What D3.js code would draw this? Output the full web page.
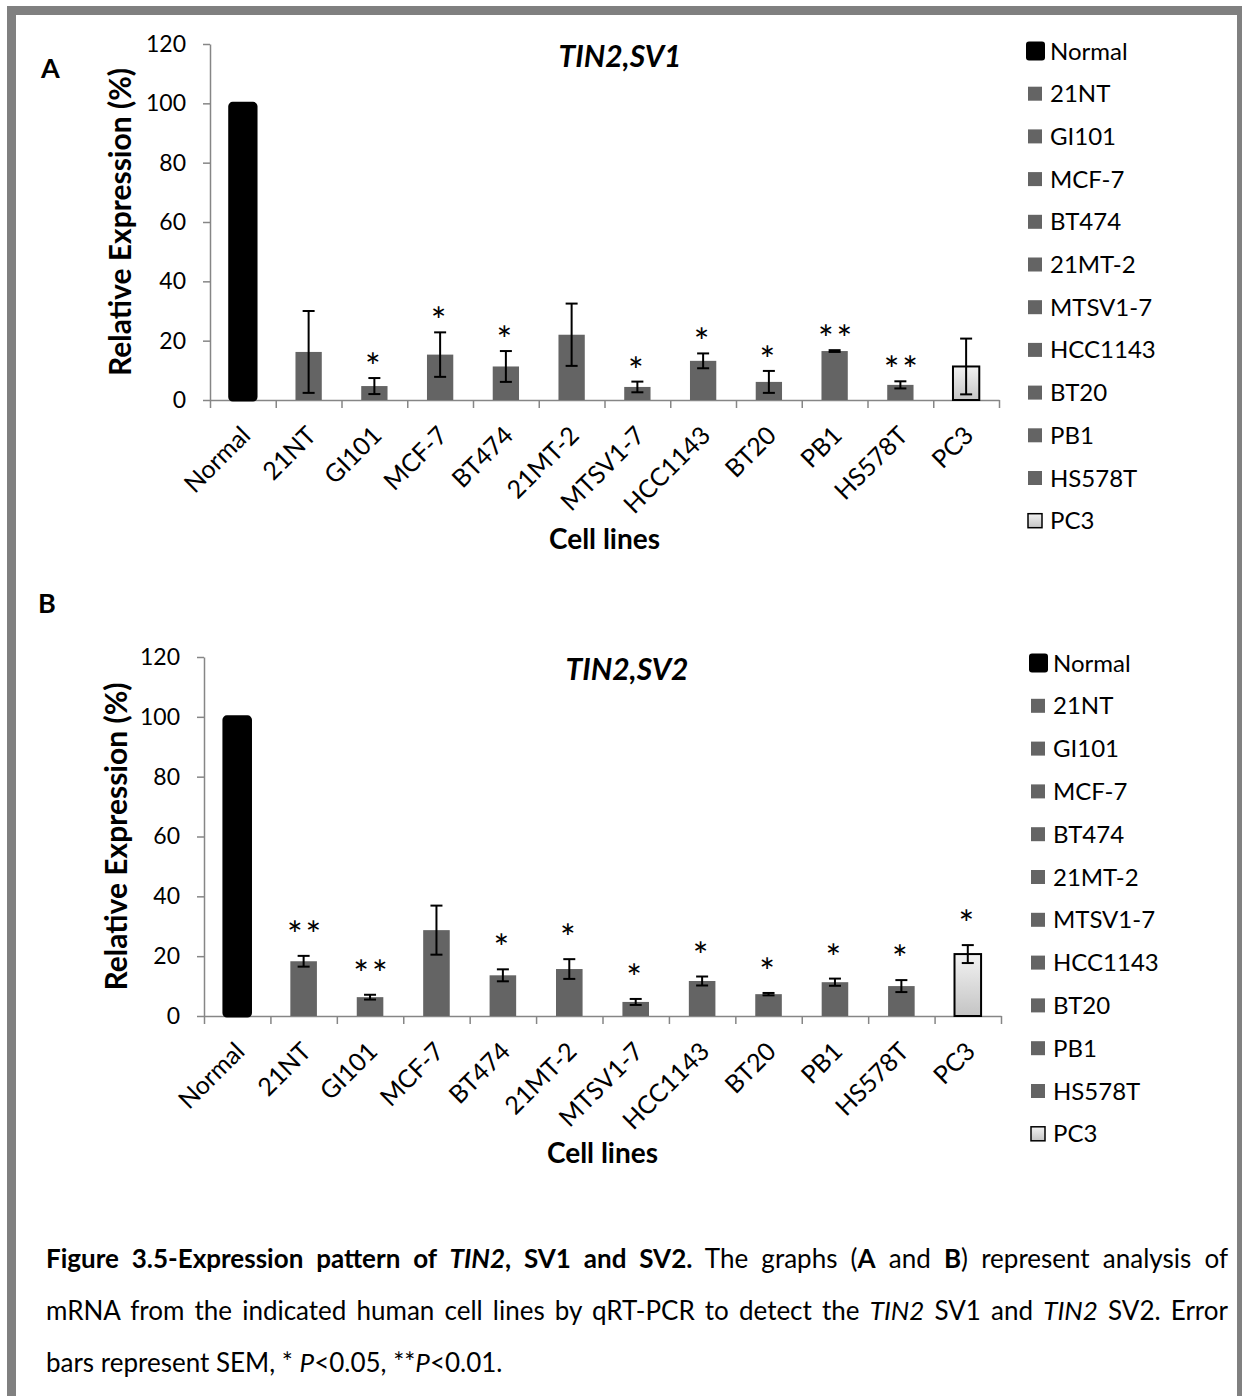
<!DOCTYPE html>
<html lang="en">
<head>
<meta charset="UTF-8">
<title>TIN2 SV1 / SV2 expression</title>
<script src="https://cdn.jsdelivr.net/npm/d3@7/dist/d3.min.js"></script>
<style>
  body { margin: 0; background: #fff; }
  #wrap { position: relative; width: 1242px; height: 1396px; overflow: hidden; }
  svg { display: block; font-family: Lato, "Open Sans", sans-serif; }
  #caption {
    position: absolute; left: 46px; top: 1232px; width: 1182px;
    font-family: Lato, "Open Sans", sans-serif; font-size: 26px; line-height: 52px; color: #000;
  }
  #caption div { text-align: justify; text-align-last: justify; white-space: nowrap; }
  #caption div.last { text-align-last: left; }
</style>
</head>
<body>
<div id="wrap">
  <svg width="1242" height="1396"></svg>
  <div id="caption">
    <div><b>Figure 3.5-Expression pattern of <i>TIN2</i>, SV1 and SV2.</b> The graphs (<b>A</b> and <b>B</b>) represent analysis of</div>
    <div>mRNA from the indicated human cell lines by qRT-PCR to detect the <i>TIN2</i> SV1 and <i>TIN2</i> SV2. Error</div>
    <div class="last">bars represent SEM, * <i>P</i>&lt;0.05, **<i>P</i>&lt;0.01.</div>
  </div>
</div>
<script>
// data
var cellLines = ["Normal","21NT","GI101","MCF-7","BT474","21MT-2","MTSV1-7","HCC1143","BT20","PB1","HS578T","PC3"];
var yTicks = [0,20,40,60,80,100,120];

var sv1Values = [100,16.2,4.7,15.3,11.3,22.0,4.4,13.2,6.1,16.5,5.1,11.3];
var sv1Errors = [0,13.8,2.7,7.5,5.2,10.5,1.8,2.5,3.7,0.3,1.2,9.4];
var sv1Stars  = ["","","*","*","*","","*","*","*","**","**",""];

var sv2Values = [100,18.3,6.3,28.7,13.6,15.7,4.7,11.7,7.3,11.3,10.0,20.7];
var sv2Errors = [0,1.8,0.8,8.2,2.0,3.3,1.0,1.5,0.4,1.2,2.0,3.0];
var sv2Stars  = ["","**","**","","*","*","*","*","*","*","*","*"];

var svg = d3.select("svg");

// outer frame
svg.append("rect")
  .attr("x",11.5).attr("y",10.5).attr("width",1230).attr("height",1420)
  .attr("fill","none").attr("stroke","#808080").attr("stroke-width",9);

// gradient for PC3
var grad = svg.append("defs").append("linearGradient")
  .attr("id","pc3grad").attr("x1",0).attr("y1",0).attr("x2",0).attr("y2",1);
grad.append("stop").attr("offset","0%").attr("stop-color","#f2f2f2");
grad.append("stop").attr("offset","100%").attr("stop-color","#c4c4c4");

function barFill(name) {
  if (name == "Normal") return "#000";
  if (name == "PC3") return "url(#pc3grad)";
  return "#646464";
}

function drawPanel(p) {
  var g = svg.append("g");

  var x = d3.scaleBand().domain(cellLines).range([p.left, p.right])
    .paddingInner(0.6).paddingOuter(0.3);
  var xEdge = d3.scaleLinear().domain([0, cellLines.length]).range([p.left, p.right]);
  var y = d3.scaleLinear().domain([0,120]).range([p.bottom, p.top]);

  // y axis
  var yAxis = g.append("g").attr("transform","translate("+p.left+",0)")
    .call(d3.axisLeft(y).tickValues(yTicks).tickSize(7).tickPadding(17).tickSizeOuter(0));
  yAxis.selectAll("text").attr("font-size",23).attr("fill","#000")
    .attr("font-family","Lato, 'Open Sans', sans-serif");

  // x axis (ticks between categories)
  g.append("g").attr("transform","translate(0,"+p.bottom+")")
    .call(d3.axisBottom(xEdge).tickValues(d3.range(cellLines.length+1)).tickFormat("").tickSize(8).tickSizeOuter(0));

  g.selectAll(".domain, .tick line").attr("stroke","#868686").attr("stroke-width",1.5);

  // category labels
  g.selectAll(".xlab").data(cellLines).enter().append("text")
    .attr("class","xlab")
    .attr("transform", function(d) {
      return "translate("+(x(d)+x.bandwidth()/2+9)+","+(p.bottom+37)+") rotate(-45)";
    })
    .attr("text-anchor","end").attr("font-size",25)
    .text(function(d) { return d; });

  // bars
  var rows = cellLines.map(function(d,i) {
    return {name:d, v:p.values[i], e:p.errors[i], s:p.stars[i]};
  });

  g.selectAll(".bar").data(rows).enter().append("rect")
    .attr("class","bar")
    .attr("x",function(d) { return x(d.name); })
    .attr("y",function(d) { return y(d.v); })
    .attr("width",x.bandwidth())
    .attr("height",function(d) { return y(0)-y(d.v); })
    .attr("fill",function(d) { return barFill(d.name); })
    .attr("stroke",function(d) { return d.name == "Normal" || d.name == "PC3" ? "#000" : "none"; })
    .attr("stroke-width",function(d) { return d.name == "Normal" ? 3 : 2; })
    .attr("rx",function(d) { return d.name == "Normal" ? 3 : 0; });

  // error bars
  var eb = g.selectAll(".err").data(rows.filter(function(d) { return d.e > 0; })).enter()
    .append("g").attr("class","err")
    .attr("stroke","#000").attr("stroke-width",2);
  eb.append("line")
    .attr("x1",function(d) { return x(d.name)+x.bandwidth()/2; })
    .attr("x2",function(d) { return x(d.name)+x.bandwidth()/2; })
    .attr("y1",function(d) { return y(d.v+d.e); })
    .attr("y2",function(d) { return y(d.v-d.e); });
  [1,-1].forEach(function(sgn) {
    eb.append("line")
      .attr("x1",function(d) { return x(d.name)+x.bandwidth()/2-6; })
      .attr("x2",function(d) { return x(d.name)+x.bandwidth()/2+6; })
      .attr("y1",function(d) { return y(d.v+sgn*d.e); })
      .attr("y2",function(d) { return y(d.v+sgn*d.e); });
  });

  // significance stars
  g.selectAll(".star").data(rows.filter(function(d) { return d.s; })).enter().append("text")
    .attr("class","star")
    .attr("x",function(d) { return x(d.name)+x.bandwidth()/2 + (d.s.length > 1 ? 2 : 0); })
    .attr("y",function(d) { return y(d.v+d.e)-p.starGap; })
    .attr("text-anchor","middle").attr("font-size",37)
    .attr("letter-spacing",3)
    .text(function(d) { return d.s; });

  // titles
  g.append("text").attr("x",p.titleX).attr("y",p.top+23)
    .attr("text-anchor","middle").attr("font-size",30)
    .attr("font-weight","bold").attr("font-style","italic")
    .text(p.title);

  g.append("text")
    .attr("transform","translate("+p.ylabX+","+((p.top+p.bottom)/2)+") rotate(-90)")
    .attr("text-anchor","middle").attr("font-size",30).attr("font-weight","bold")
    .text("Relative Expression (%)");

  g.append("text").attr("x",(p.left+p.right)/2).attr("y",p.xlabY)
    .attr("text-anchor","middle").attr("font-size",28).attr("font-weight","bold")
    .text("Cell lines");

  g.append("text").attr("x",p.letterX).attr("y",p.letterY)
    .attr("font-size",27).attr("font-weight","bold").text(p.letter);

  // legend
  var lg = g.selectAll(".leg").data(cellLines).enter().append("g")
    .attr("class","leg")
    .attr("transform",function(d,i) { return "translate("+p.legX+","+(p.legY+i*p.legStep)+")"; });
  lg.append("rect")
    .attr("x",function(d) { return d == "Normal" ? -2 : 0; })
    .attr("y",function(d) { return d == "Normal" ? -9.5 : -7; })
    .attr("width",function(d) { return d == "Normal" ? 19 : 14; })
    .attr("height",function(d) { return d == "Normal" ? 19 : 14; })
    .attr("rx",function(d) { return d == "Normal" ? 3 : 0; })
    .attr("fill",function(d) { return barFill(d); })
    .attr("stroke",function(d) { return d == "PC3" ? "#000" : "none"; })
    .attr("stroke-width",1.5);
  lg.append("text").attr("x",22).attr("y",8.5).attr("font-size",24)
    .text(function(d) { return d; });
}

drawPanel({
  left:210, right:999, top:44, bottom:400,
  values:sv1Values, errors:sv1Errors, stars:sv1Stars, starGap:-2,
  title:"TIN2,SV1", titleX:620, ylabX:131, xlabY:549,
  letter:"A", letterX:41, letterY:78,
  legX:1028, legY:51, legStep:42.7
});

drawPanel({
  left:204, right:1001, top:657, bottom:1016,
  values:sv2Values, errors:sv2Errors, stars:sv2Stars, starGap:8,
  title:"TIN2,SV2", titleX:627, ylabX:127, xlabY:1163,
  letter:"B", letterX:38, letterY:613,
  legX:1031, legY:663, legStep:42.8
});
</script>
</body>
</html>
